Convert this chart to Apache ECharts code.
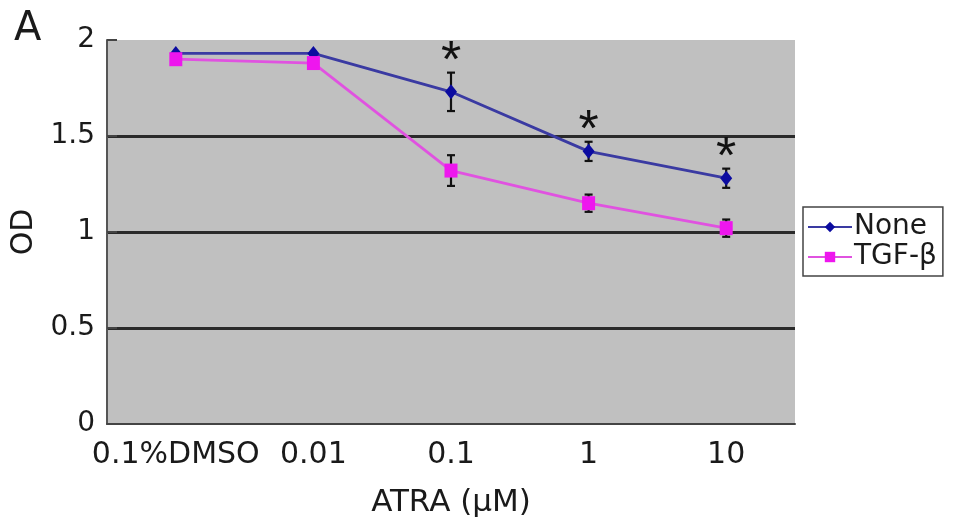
<!DOCTYPE html>
<html>
<head>
<meta charset="utf-8">
<script src="https://cdn.jsdelivr.net/npm/echarts@6/dist/echarts.min.js"></script>
<style>
html,body{margin:0;padding:0;background:#fff;}
#chart{width:969px;height:532px;}
</style>
</head>
<body>
<div id="chart"></div>
<script>
const categories = ['0.1%DMSO', '0.01', '0.1', '1', '10'];
const noneValues = [1.93, 1.93, 1.73, 1.42, 1.28];
const noneErrors = [0, 0, 0.10, 0.05, 0.05];
const tgfValues = [1.90, 1.88, 1.32, 1.15, 1.02];
const tgfErrors = [0, 0, 0.08, 0.045, 0.045];
const significance = ['', '', '*', '*', '*'];
const yTicks = [0, 0.5, 1, 1.5, 2];

const FONT = 'DejaVu Sans';
const TEXT = '#1a1a1a';

function errData(vals, errs) {
  return vals.map((v, i) => [i, v - errs[i], v + errs[i]]);
}

function errRender(params, api) {
  const i = api.value(0);
  const lo = api.coord([i, api.value(1)]);
  const hi = api.coord([i, api.value(2)]);
  if (Math.abs(hi[1] - lo[1]) < 1) return null;
  const cap = 4;
  const style = { stroke: '#111', lineWidth: 2.2 };
  return {
    type: 'group',
    children: [
      { type: 'line', shape: { x1: lo[0], y1: lo[1], x2: hi[0], y2: hi[1] }, style },
      { type: 'line', shape: { x1: lo[0] - cap, y1: lo[1], x2: lo[0] + cap, y2: lo[1] }, style },
      { type: 'line', shape: { x1: hi[0] - cap, y1: hi[1], x2: hi[0] + cap, y2: hi[1] }, style }
    ]
  };
}

const sigData = significance.map((s, i) => [i, noneValues[i] + noneErrors[i], s]);

const chart = echarts.init(document.getElementById('chart'));
chart.setOption({
  animation: false,
  backgroundColor: '#fff',
  title: {
    text: 'A', left: 9, top: 5,
    textStyle: { fontFamily: FONT, fontSize: 40, fontWeight: 'normal', color: TEXT }
  },
  legend: {
    orient: 'vertical',
    left: 803, top: 207,
    padding: [6, 6, 5, 4],
    itemGap: 2,
    itemWidth: 44, itemHeight: 13,
    backgroundColor: '#fff',
    borderColor: '#444', borderWidth: 1.5, borderRadius: 0,
    textStyle: { fontFamily: FONT, fontSize: 28, color: TEXT, padding: [0, 0, 0, -3] },
    data: ['None', 'TGF-β']
  },
  grid: {
    left: 107, right: 174, top: 40, bottom: 108,
    show: true, backgroundColor: '#c0c0c0', borderWidth: 0
  },
  xAxis: {
    type: 'category',
    data: categories,
    boundaryGap: true,
    name: 'ATRA (μM)',
    nameLocation: 'middle',
    nameGap: 63,
    nameTextStyle: { fontFamily: FONT, fontSize: 31, color: TEXT },
    axisLine: { lineStyle: { color: '#444', width: 2 } },
    axisTick: { inside: true, length: 11, lineStyle: { color: '#444', width: 2 } },
    axisLabel: { interval: 0, margin: 16, fontFamily: FONT, fontSize: 30, color: TEXT },
    splitLine: { show: false }
  },
  yAxis: {
    type: 'value',
    min: 0, max: 2, interval: 0.5,
    name: 'OD',
    nameLocation: 'middle',
    nameRotate: 90,
    nameGap: 58,
    nameTextStyle: { fontFamily: FONT, fontSize: 30, color: TEXT },
    axisLine: { show: true, lineStyle: { color: '#555', width: 2 } },
    axisTick: { show: true, inside: true, length: 10, lineStyle: { color: '#444', width: 2 } },
    axisLabel: {
      margin: 12, fontFamily: FONT, fontSize: 28, color: TEXT,
      formatter: v => (yTicks.indexOf(v) >= 0 ? String(v) : '')
    },
    splitLine: { show: true, showMinLine: false, showMaxLine: false, lineStyle: { color: '#2a2a2a', width: 2.8 } }
  },
  series: [
    {
      name: 'None', type: 'line', data: noneValues, z: 3,
      symbol: 'diamond', symbolSize: [12, 15],
      lineStyle: { color: '#3a3aa2', width: 2.8 },
      itemStyle: { color: '#0b0ba0' }
    },
    {
      name: 'TGF-β', type: 'line', data: tgfValues, z: 3,
      symbol: 'rect', symbolSize: [13, 14],
      lineStyle: { color: '#e052e0', width: 2.8 },
      itemStyle: { color: '#ee16ee' }
    },
    {
      type: 'custom', data: errData(noneValues, noneErrors), z: 2,
      renderItem: errRender, silent: true
    },
    {
      type: 'custom', data: errData(tgfValues, tgfErrors), z: 2,
      renderItem: errRender, silent: true
    },
    {
      type: 'custom', data: sigData, z: 4, silent: true,
      renderItem: function (params, api) {
        const s = significance[api.value(0)];
        if (!s) return null;
        const p = api.coord([api.value(0), api.value(1)]);
        return {
          type: 'text',
          style: {
            text: s, x: p[0], y: p[1] - 10,
            align: 'center', verticalAlign: 'middle',
            fontFamily: 'Liberation Sans', fontSize: 52, fontWeight: 'normal', fill: '#111'
          }
        };
      }
    }
  ]
});
</script>
</body>
</html>
